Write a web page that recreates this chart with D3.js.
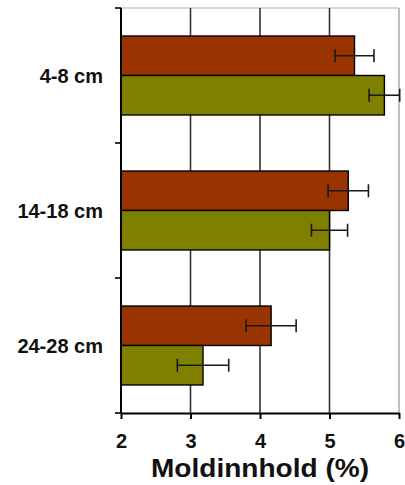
<!DOCTYPE html>
<html>
<head>
<meta charset="utf-8">
<script src="https://cdn.jsdelivr.net/npm/d3@7/dist/d3.min.js"></script>
<style>
  html, body { margin: 0; padding: 0; background: #fff; }
  svg { display: block; font-family: "Liberation Sans", Arial, sans-serif; }
</style>
</head>
<body>
<svg id="chart" width="405" height="485"></svg>
<script>
// Soil depth classes and the two series of humus content (%)
const depths = ["4-8 cm", "14-18 cm", "24-28 cm"];
const seriesNames = ["A", "B"];
const valuesA = [5.36, 5.27, 4.16];
const errorsA = [0.28, 0.29, 0.36];
const valuesB = [5.79, 5.00, 3.18];
const errorsB = [0.22, 0.26, 0.37];
const xTicks = [2, 3, 4, 5, 6];
const xTitle = "Moldinnhold (%)";

const colors = { A: "#993300", B: "#808000" };

const svg = d3.select("#chart");
const m = { left: 121, right: 6, top: 8, bottom: 72 };
const W = 405, H = 485;
const x0 = m.left, x1 = W - m.right, y0 = m.top, y1 = H - m.bottom;

const x = d3.scaleLinear().domain([2, 6]).range([x0, x1]);
const y = d3.scaleBand().domain(depths).range([y0, y1]).padding(0);
const ySub = d3.scaleBand().domain(seriesNames).range([0, y.bandwidth()])
  .paddingInner(0).paddingOuter(0.71);

const rows = [];
depths.forEach((d, i) => {
  rows.push({ depth: d, s: "A", v: valuesA[i], e: errorsA[i] });
  rows.push({ depth: d, s: "B", v: valuesB[i], e: errorsB[i] });
});

// frame (top and right in light gray)
svg.append("line").attr("x1", x0).attr("x2", x1).attr("y1", y0).attr("y2", y0)
  .attr("stroke", "#b0b0b0").attr("stroke-width", 1.2);
svg.append("line").attr("x1", x(6)).attr("x2", x(6)).attr("y1", y0).attr("y2", y1)
  .attr("stroke", "#a8a8a8").attr("stroke-width", 1.5);

// vertical gridlines
svg.append("g").selectAll("line").data([3, 4, 5]).join("line")
  .attr("x1", d => x(d)).attr("x2", d => x(d))
  .attr("y1", y0).attr("y2", y1)
  .attr("stroke", "#333").attr("stroke-width", 1.6);

// bars
svg.append("g").selectAll("rect").data(rows).join("rect")
  .attr("x", x(2))
  .attr("y", d => y(d.depth) + ySub(d.s))
  .attr("width", d => x(d.v) - x(2))
  .attr("height", ySub.bandwidth())
  .attr("fill", d => colors[d.s])
  .attr("stroke", "#000").attr("stroke-width", 1.4);

// error bars
const eb = svg.append("g").attr("stroke", "#1a1a1a").attr("stroke-width", 1.6);
rows.forEach(d => {
  const cy = y(d.depth) + ySub(d.s) + ySub.bandwidth() / 2;
  eb.append("line").attr("x1", x(d.v - d.e)).attr("x2", x(d.v + d.e)).attr("y1", cy).attr("y2", cy);
  [d.v - d.e, d.v + d.e].forEach(v => {
    eb.append("line").attr("x1", x(v)).attr("x2", x(v)).attr("y1", cy - 6.5).attr("y2", cy + 6.5);
  });
});

// x axis
const xAxis = svg.append("g").attr("transform", `translate(0,${y1})`)
  .call(d3.axisBottom(x).tickValues(xTicks).tickSizeInner(6).tickSizeOuter(0).tickFormat(d3.format("d")));
xAxis.select(".domain").attr("stroke", "#000").attr("stroke-width", 2);
xAxis.selectAll(".tick line").attr("stroke", "#000").attr("stroke-width", 2);
xAxis.selectAll(".tick text")
  .attr("y", 35).attr("dy", 0)
  .attr("font-size", 20).attr("font-weight", "bold").attr("fill", "#111")
  .attr("font-family", "Liberation Sans, Arial, sans-serif");

// y axis with ticks between categories
const yAxis = svg.append("g");
yAxis.append("line").attr("x1", x0).attr("x2", x0).attr("y1", y0).attr("y2", y1)
  .attr("stroke", "#000").attr("stroke-width", 2);
const bounds = depths.map(d => y(d)).concat([y1]);
yAxis.selectAll("line.tk").data(bounds).join("line").attr("class", "tk")
  .attr("x1", x0 - 6).attr("x2", x0).attr("y1", d => d).attr("y2", d => d)
  .attr("stroke", "#000").attr("stroke-width", 1.6);
yAxis.selectAll("text").data(depths).join("text")
  .attr("x", 103).attr("y", d => y(d) + y.bandwidth() / 2)
  .attr("dy", "0.36em")
  .attr("text-anchor", "end")
  .attr("font-size", 20).attr("font-weight", "bold").attr("fill", "#111")
  .text(d => d);

// axis title
svg.append("text")
  .attr("x", (x0 + x1) / 2).attr("y", 477)
  .attr("text-anchor", "middle")
  .attr("font-size", 26).attr("font-weight", "bold").attr("fill", "#111")
  .attr("textLength", 218).attr("lengthAdjust", "spacingAndGlyphs")
  .text(xTitle);
</script>
</body>
</html>
